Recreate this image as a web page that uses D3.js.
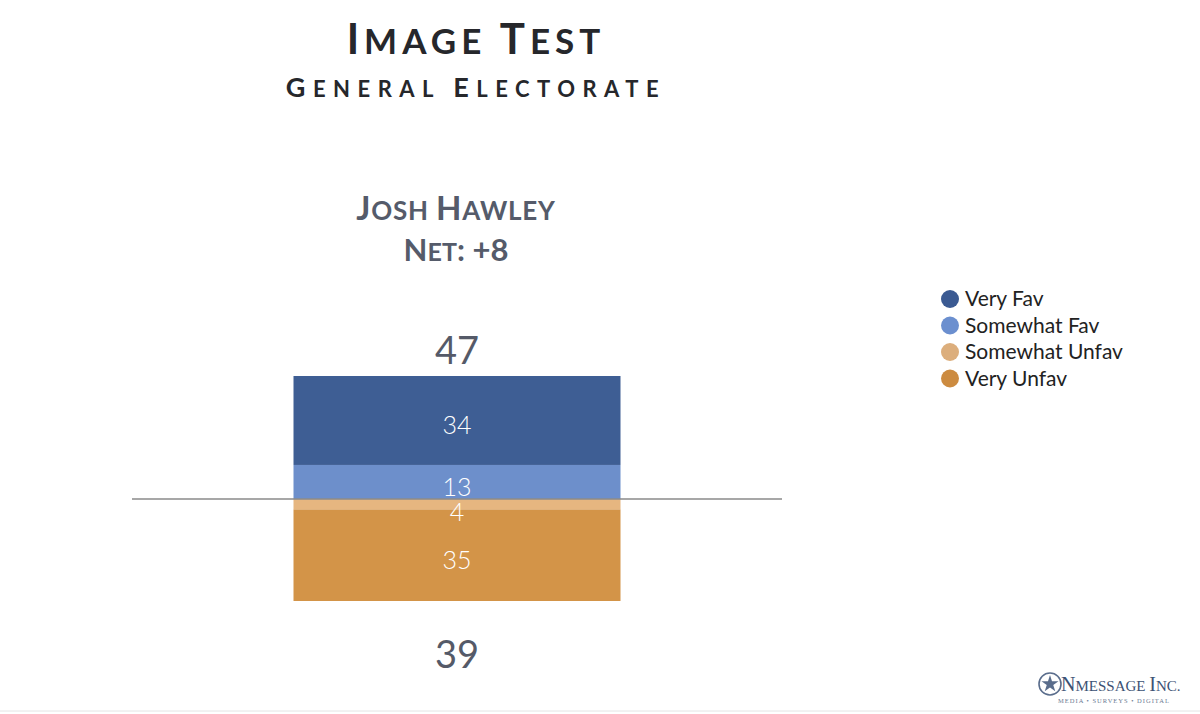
<!DOCTYPE html>
<html lang="en">
<head>
    <meta charset="UTF-8">
    <title>Image Test - General Electorate</title>
    <script type="text/javascript" src="https://cdn.jsdelivr.net/npm/d3@7"></script>
    <style>
        body { margin: 0; background: #fff; }
        svg { display: block; }
    </style>
</head>
<body>
<script type="text/javascript">
    var w = 1200;
    var h = 714;

    var candidates = ["Josh Hawley"];
    var series = ["Very Fav", "Somewhat Fav", "Somewhat Unfav", "Very Unfav"];
    var colors = ["#3e5e94", "#6d8fcb", "#e6b680", "#d39448"];
    var legendColors = ["#3b5a92", "#6b8fcf", "#dcae7c", "#cc8b40"];
    // positive values stack up, negative ones stack down
    var values = [34, 13, -4, -35];
    var totalFav = 47;
    var totalUnfav = 39;
    var net = 8;

    var svg = d3.select("body")
        .append("svg")
        .attr("width", w)
        .attr("height", h);

    var font = "Lato, 'Open Sans', sans-serif";

    // small caps helper: first letter of each word big, rest smaller
    function smallCaps(sel, str, big, small) {
        str.split(" ").forEach(function (word, i) {
            if (i > 0) sel.append("tspan").attr("font-size", small).text(" ");
            sel.append("tspan").attr("font-size", big).text(word[0].toUpperCase());
            sel.append("tspan").attr("font-size", small).text(word.slice(1).toUpperCase());
        });
    }

    // title
    var t1 = svg.append("text")
        .attr("x", 476).attr("y", 54)
        .attr("text-anchor", "middle")
        .attr("font-family", font)
        .attr("font-weight", 700)
        .attr("letter-spacing", 5)
        .attr("fill", "#26272b");
    smallCaps(t1, "Image Test", 42, 35);

    var t2 = svg.append("text")
        .attr("x", 476).attr("y", 97)
        .attr("text-anchor", "middle")
        .attr("font-family", font)
        .attr("font-weight", 700)
        .attr("letter-spacing", 7.5)
        .attr("fill", "#26272b");
    smallCaps(t2, "General Electorate", 27, 22);

    // scales
    var x = d3.scaleBand()
        .domain(candidates)
        .range([132, 782])
        .paddingInner(0)
        .paddingOuter(0.25);

    var y = d3.scaleLinear()
        .domain([-totalUnfav, totalFav])
        .range([601, 376]);

    var barW = 327;

    // stack segments outward from zero: somewhat first, then very
    var segs = [];
    var up = 0, down = 0;
    [1, 0, 2, 3].forEach(function (i) {
        var v = values[i];
        var s = {name: series[i], value: Math.abs(v), color: colors[i]};
        if (v >= 0) { s.y0 = up; s.y1 = up + v; up += v; }
        else { s.y0 = down; s.y1 = down + v; down += v; }
        segs.push(s);
    });

    var cx = x(candidates[0]) + x.bandwidth() / 2;

    var g = svg.append("g");

    g.selectAll("rect")
        .data(segs).enter()
        .append("rect")
        .attr("x", cx - barW / 2)
        .attr("width", barW)
        .attr("y", function (d) { return y(Math.max(d.y0, d.y1)); })
        .attr("height", function (d) { return Math.abs(y(d.y0) - y(d.y1)); })
        .attr("fill", function (d) { return d.color; });

    // zero line
    svg.append("line")
        .attr("x1", 132).attr("x2", 782)
        .attr("y1", y(0)).attr("y2", y(0))
        .attr("stroke", "#8a8a8a")
        .attr("stroke-width", 1.5);

    // segment labels
    g.selectAll("text.seg")
        .data(segs).enter()
        .append("text")
        .attr("class", "seg")
        .attr("x", cx)
        .attr("y", function (d) { return y((d.y0 + d.y1) / 2) + (d.value < 8 ? 17 : 14); })
        .attr("text-anchor", "middle")
        .attr("font-family", font)
        .attr("font-weight", 300)
        .attr("font-size", 25)
        .attr("fill", "#ffffff")
        .text(function (d) { return d.value; });

    // totals
    svg.append("text")
        .attr("x", cx).attr("y", y(totalFav) - 12)
        .attr("text-anchor", "middle")
        .attr("font-family", font)
        .attr("font-size", 38)
        .attr("fill", "#555a68")
        .text(totalFav);

    svg.append("text")
        .attr("x", cx).attr("y", y(-totalUnfav) + 67)
        .attr("text-anchor", "middle")
        .attr("font-family", font)
        .attr("font-size", 38)
        .attr("fill", "#555a68")
        .text(totalUnfav);

    // candidate heading
    var h1 = svg.append("text")
        .attr("x", 456).attr("y", 220)
        .attr("text-anchor", "middle")
        .attr("font-family", font)
        .attr("font-weight", 700)
        .attr("letter-spacing", 0.8)
        .attr("fill", "#555b6a");
    smallCaps(h1, candidates[0], 33, 26);

    var h2 = svg.append("text")
        .attr("x", 456).attr("y", 261)
        .attr("text-anchor", "middle")
        .attr("font-family", font)
        .attr("font-weight", 700)
        .attr("fill", "#555b6a");
    h2.append("tspan").attr("font-size", 31).text("N");
    h2.append("tspan").attr("font-size", 25).text("ET");
    h2.append("tspan").attr("font-size", 31).text(": " + (net > 0 ? "+" : "") + net);

    // legend
    var legend = svg.selectAll("g.leg")
        .data(series).enter()
        .append("g")
        .attr("class", "leg")
        .attr("transform", function (d, i) { return "translate(950," + (299 + i * 26.5) + ")"; });

    legend.append("circle")
        .attr("r", 9)
        .attr("fill", function (d, i) { return legendColors[i]; });

    legend.append("text")
        .attr("x", 15)
        .attr("y", 7)
        .attr("font-family", font)
        .attr("font-size", 21)
        .attr("fill", "#222")
        .text(function (d) { return d; });

    // logo
    var logo = svg.append("g").attr("transform", "translate(1050,684)");
    logo.append("circle").attr("r", 11).attr("fill", "none")
        .attr("stroke", "#5a6d8c").attr("stroke-width", 1.6);
    logo.append("path")
        .attr("d", d3.symbol().type(d3.symbolStar).size(90)())
        .attr("fill", "#5a6d8c");
    logo.append("text")
        .attr("x", 11).attr("y", 7)
        .attr("font-family", "'Liberation Serif', serif")
        .attr("fill", "#3c5274")
        .selectAll("tspan")
        .data([["N", 20], ["MESSAGE ", 15], ["I", 20], ["NC.", 15]]).enter()
        .append("tspan")
        .attr("font-size", function (d) { return d[1]; })
        .text(function (d) { return d[0]; });
    logo.append("text")
        .attr("x", 64).attr("y", 19)
        .attr("text-anchor", "middle")
        .attr("font-family", "'Liberation Serif', serif")
        .attr("font-size", 6.5)
        .attr("letter-spacing", 1)
        .attr("fill", "#6b7a93")
        .text("MEDIA \u2022 SURVEYS \u2022 DIGITAL");

    svg.append("line")
        .attr("x1", 0).attr("x2", w)
        .attr("y1", 711).attr("y2", 711)
        .attr("stroke", "#e4e4e4");
</script>
</body>
</html>
